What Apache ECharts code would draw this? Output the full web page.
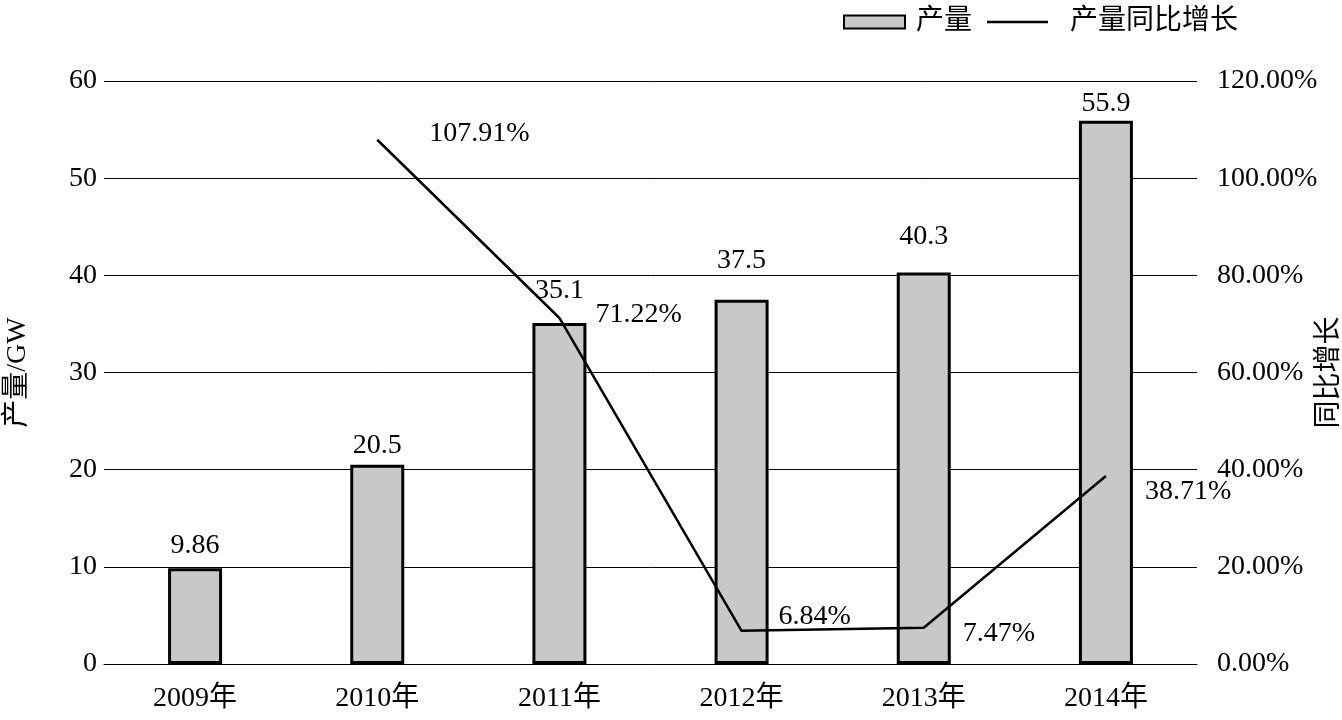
<!DOCTYPE html>
<html>
<head>
<meta charset="utf-8">
<script src="https://cdn.jsdelivr.net/npm/echarts@6/dist/echarts.min.js"></script>
<style>
html,body{margin:0;padding:0;background:#fff;}
#chart{width:1342px;height:720px;}
</style>
</head>
<body>
<div id="chart"></div>
<script>
const categories = ['2009年', '2010年', '2011年', '2012年', '2013年', '2014年'];
const output = [9.86, 20.5, 35.1, 37.5, 40.3, 55.9];
const growth = [null, 107.91, 71.22, 6.84, 7.47, 38.71];
const seriesNames = ['产量', '产量同比增长'];
const axisNames = ['产量/GW', '同比增长'];

const FONT = "'Liberation Serif', 'Noto Sans CJK SC', serif";
const FS = 28;

// label placement (style only)
const barLabelDist = [9, 5, 18, 25, 22, 3];
const growthLabelOffset = [null, [52, -6], [36, -3], [37, -14], [39, 6], [39, 16]];

const chart = echarts.init(document.getElementById('chart'), null, {renderer: 'canvas'});

const option = {
  backgroundColor: '#fff',
  animation: false,
  textStyle: {fontFamily: FONT, color: '#000'},
  legend: [
    {
      data: [{name: seriesNames[0], icon: 'rect'}],
      left: 843, top: 8, padding: 0,
      itemWidth: 61, itemHeight: 13,
      textStyle: {fontFamily: FONT, fontSize: FS, color: '#000', padding: [0, 0, 0, 6]},
      selectedMode: false
    },
    {
      data: [{name: seriesNames[1], icon: 'rect', itemStyle: {color: '#000', borderWidth: 0}}],
      left: 987, top: 8, padding: 0,
      itemWidth: 61, itemHeight: 2.5,
      textStyle: {fontFamily: FONT, fontSize: FS, color: '#000', padding: [0, 0, 0, 17]},
      selectedMode: false
    }
  ],
  grid: {left: 104, right: 145, top: 81, bottom: 56, containLabel: false, outerBoundsMode: 'none'},
  xAxis: {
    type: 'category',
    data: categories,
    axisLine: {show: true, lineStyle: {color: '#000', width: 1}},
    axisTick: {show: false},
    axisLabel: {fontFamily: FONT, fontSize: FS, color: '#000', margin: 21},
    splitLine: {show: false}
  },
  yAxis: [
    {
      type: 'value', min: 0, max: 60, interval: 10,
      name: axisNames[0], nameLocation: 'middle', nameGap: 72, nameMoveOverlap: false,
      nameTextStyle: {fontFamily: FONT, fontSize: FS, color: '#000'},
      axisLine: {show: false}, axisTick: {show: false},
      axisLabel: {fontFamily: FONT, fontSize: FS, color: '#000', margin: 7},
      splitLine: {show: true, lineStyle: {color: '#000', width: 1}}
    },
    {
      type: 'value', min: 0, max: 120, interval: 20,
      name: axisNames[1], nameLocation: 'middle', nameGap: 119, nameMoveOverlap: false,
      nameTextStyle: {fontFamily: FONT, fontSize: FS, color: '#000'},
      axisLine: {show: false}, axisTick: {show: false},
      axisLabel: {fontFamily: FONT, fontSize: FS, color: '#000', margin: 20,
        formatter: v => v.toFixed(2) + '%'},
      splitLine: {show: false}
    }
  ],
  series: [
    {
      name: seriesNames[0],
      type: 'bar',
      barWidth: 54,
      itemStyle: {color: '#c8c8c8', borderColor: '#000', borderWidth: 3},
      label: {show: true, position: 'top', fontFamily: FONT, fontSize: FS, color: '#000'},
      data: output.map((v, i) => ({value: v, label: {distance: barLabelDist[i]}})),
      z: 3
    },
    {
      name: seriesNames[1],
      type: 'line',
      yAxisIndex: 1,
      symbol: 'circle',
      symbolSize: 0.01,
      showSymbol: true,
      connectNulls: false,
      lineStyle: {color: '#000', width: 2.5},
      itemStyle: {color: '#000'},
      label: {show: true, position: 'right', distance: 0, fontFamily: FONT, fontSize: FS, color: '#000',
        formatter: p => p.value == null ? '' : p.value.toFixed(2) + '%'},
      data: growth.map((v, i) => v == null ? {value: null} :
        {value: v, label: {offset: growthLabelOffset[i]}}),
      z: 4
    }
  ]
};
chart.setOption(option);
</script>
</body>
</html>
